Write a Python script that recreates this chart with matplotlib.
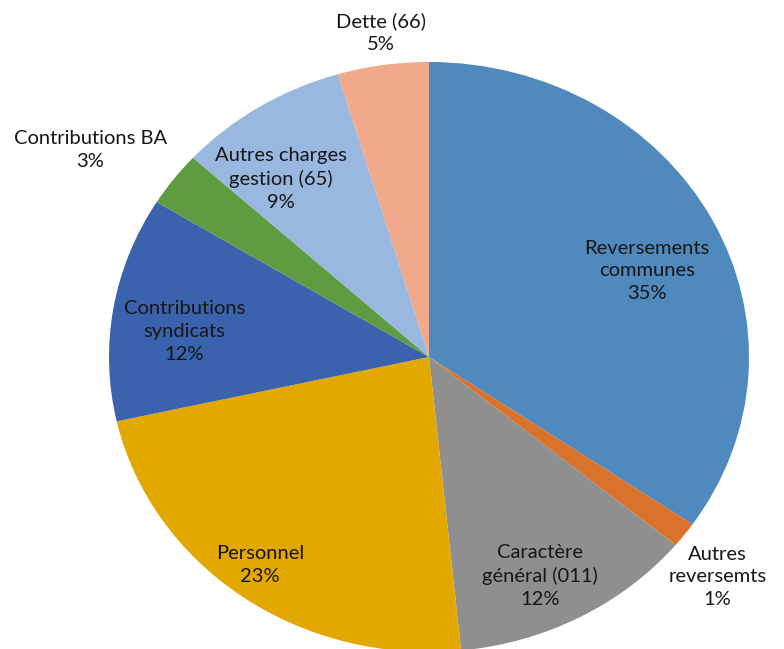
import matplotlib
matplotlib.use("Agg")
import matplotlib.pyplot as plt
import numpy as np

plt.rcParams['font.family'] = ['Lato', 'DejaVu Sans']

categories = [
    "Reversements\ncommunes",
    "Autres\nreversemts",
    "Caractère\ngénéral (011)",
    "Personnel",
    "Contributions\nsyndicats",
    "Contributions BA",
    "Autres charges\ngestion (65)",
    "Dette (66)",
]
shares = [34.6, 1.4, 12.4, 23.1, 12.3, 3.0, 8.6, 4.6]
colors = ["#4F89BD", "#D9722B", "#8F8F8F", "#E2A800",
          "#3B63AD", "#5F9B40", "#98B8E0", "#F0A98B"]
# radial placement of each label (fraction of radius) and angular nudge
label_radius = [0.74, 1.17, 0.82, 0.88, 0.77, 1.27, 0.76, 1.11]
label_shift = [-4.5, -2.5, -3.0, -1.0, 3.0, 3.5, 5.5, -0.5]

fig = plt.figure(figsize=(7.84, 6.49), dpi=100)
W, H = 784, 649
cx, cy, rx, ry = 429, 357, 320, 295
ax = fig.add_axes([(cx - rx) / W, (H - cy - ry) / H, 2 * rx / W, 2 * ry / H])

wedges, _ = ax.pie(shares, colors=colors, startangle=90, counterclock=False,
                   radius=1.0, wedgeprops=dict(linewidth=0))
ax.set_aspect('auto')
ax.set_xlim(-1, 1)
ax.set_ylim(-1, 1)
ax.axis('off')

total = sum(shares)
for w, name, val, r, d in zip(wedges, categories, shares, label_radius, label_shift):
    mid = np.deg2rad((w.theta1 + w.theta2) / 2 + d)
    x, y = r * np.cos(mid), r * np.sin(mid)
    ax.text(x, y, f"{name}\n{val / total * 100:.0f}%", ha='center', va='center',
            fontsize=14.5, color="#161616", linespacing=1.42, clip_on=False)

fig.savefig("out.png", dpi=100)
